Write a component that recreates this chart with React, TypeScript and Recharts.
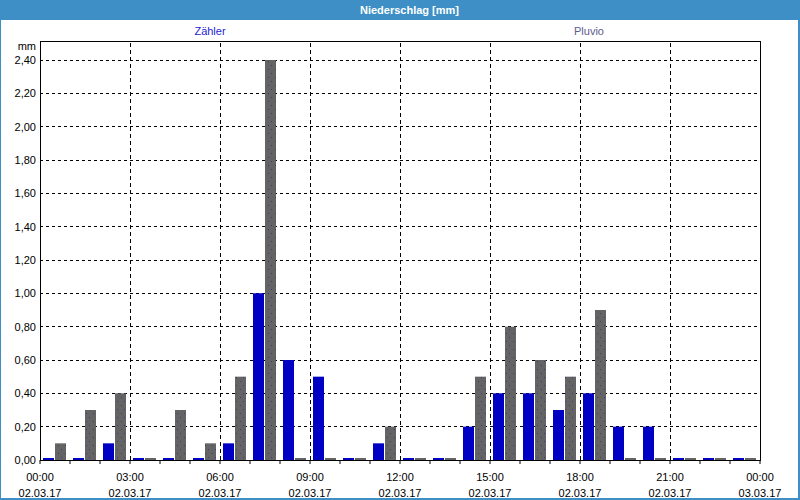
import React from 'react';
import { BarChart, Bar, XAxis, YAxis, CartesianGrid, ReferenceLine, ReferenceArea } from 'recharts';

// hourly slots 00:00 .. 23:00 on 02.03.17
const HOURS = [0, 1, 2, 3, 4, 5, 6, 7, 8, 9, 10, 11, 12, 13, 14, 15, 16, 17, 18, 19, 20, 21, 22, 23];
const ZAEHLER = [0, 0, 0.1, 0, 0, 0, 0.1, 1.0, 0.6, 0.5, 0, 0.1, 0, 0, 0.2, 0.4, 0.4, 0.3, 0.4, 0.2, 0.2, 0, 0, 0];
const PLUVIO = [0.1, 0.3, 0.4, 0, 0.3, 0.1, 0.5, 2.4, 0, 0, 0, 0.2, 0, 0, 0.5, 0.8, 0.6, 0.5, 0.9, 0, 0, 0, 0, 0];

const Y_TICKS = [0, 0.2, 0.4, 0.6, 0.8, 1.0, 1.2, 1.4, 1.6, 1.8, 2.0, 2.2, 2.4];
const Y_MAX = 2.514;

const TICK_HOURS = [0, 3, 6, 9, 12, 15, 18, 21, 24];
const TICK_TIMES = ['00:00', '03:00', '06:00', '09:00', '12:00', '15:00', '18:00', '21:00', '00:00'];
const TICK_DATES = ['02.03.17', '02.03.17', '02.03.17', '02.03.17', '02.03.17', '02.03.17', '02.03.17', '02.03.17', '03.03.17'];
const GRID_HOURS = [3, 6, 9, 12, 15, 18, 21];
const ALL_TICKS = [...HOURS, 24];

const BLUE = '#0000c4';
const GRAY = '#646464';
const FRAME = '#3d8fc6';
const FONT = '"Liberation Sans", Arial, sans-serif';

const data = HOURS.map((h, i) => ({ mid: h + 0.5, zaehler: ZAEHLER[i], pluvio: PLUVIO[i] }));

const TimeTick = ({ x, y, payload }: any) => {
  const idx = TICK_HOURS.indexOf(payload.value);
  if (idx < 0) return null;
  return (
    <g>
      <text x={x} y={y + 15} textAnchor="middle" fontSize={11} fontFamily={FONT} fill="#000">{TICK_TIMES[idx]}</text>
      <text x={x} y={y + 31} textAnchor="middle" fontSize={11} fontFamily={FONT} fill="#000">{TICK_DATES[idx]}</text>
    </g>
  );
};

export default function App() {
  return (
    <div style={{ position: 'absolute', left: 0, top: 0, width: 800, height: 500, background: '#fff', fontFamily: FONT, overflow: 'hidden' }}>
      <style>{'.recharts-cartesian-grid line, .recharts-reference-line line, .recharts-reference-area rect, .recharts-reference-area path { shape-rendering: crispEdges; }'}</style>
      <div style={{ position: 'absolute', left: 0, top: 0, width: 800, height: 20, background: FRAME, color: '#fff', fontWeight: 'bold', fontSize: 11, lineHeight: '20px', textAlign: 'center', paddingLeft: 19, boxSizing: 'border-box' }}>
        Niederschlag [mm]
      </div>
      <div style={{ position: 'absolute', left: 0, top: 24, width: 420, textAlign: 'center', fontSize: 11, color: '#2424d4', lineHeight: '14px' }}>Zähler</div>
      <div style={{ position: 'absolute', left: 380, top: 24, width: 418, textAlign: 'center', fontSize: 11, color: '#5c5c8c', lineHeight: '14px' }}>Pluvio</div>
      <div style={{ position: 'absolute', left: 0, top: 40, width: 36, textAlign: 'right', fontSize: 11, color: '#000', lineHeight: '13px' }}>mm</div>
      <div style={{ position: 'absolute', left: 0, top: 20 }}>
        <BarChart width={800} height={480} data={data} margin={{ top: 21, right: 40, bottom: 0, left: 0 }} barSize={11} barGap={1}>
          <defs>
            <pattern id="dots" width="7" height="8" patternUnits="userSpaceOnUse">
              <rect width="7" height="8" fill={GRAY} />
              <rect x="2" y="1" width="1" height="1" fill="#3a3a80" />
              <rect x="5" y="5" width="1" height="1" fill="#3a3a80" />
            </pattern>
          </defs>
          <CartesianGrid vertical={false} stroke="#000" strokeDasharray="3 3" />
          {GRID_HOURS.map((h) => (
            <ReferenceLine key={h} x={h} stroke="#000" strokeDasharray="4 3" />
          ))}
          <XAxis
            type="number"
            dataKey="mid"
            domain={[0, 24]}
            ticks={ALL_TICKS}
            interval={0}
            allowDataOverflow
            height={40}
            axisLine={false}
            tickLine={{ stroke: '#000' }}
            tickSize={4}
            tick={<TimeTick />}
          />
          <YAxis
            type="number"
            domain={[0, Y_MAX]}
            ticks={Y_TICKS}
            allowDataOverflow
            width={40}
            axisLine={false}
            tickLine={false}
            tickSize={0}
            tickMargin={4}
            tick={{ fontSize: 11, fontFamily: FONT, fill: '#000' }}
            tickFormatter={(v: number) => v.toFixed(2).replace('.', ',')}
          />
          <ReferenceArea x1={0} x2={24} y1={0} y2={Y_MAX} fill="none" stroke="#000" strokeWidth={1} ifOverflow="visible" />
          <Bar dataKey="zaehler" fill={BLUE} minPointSize={2} isAnimationActive={false} />
          <Bar dataKey="pluvio" fill="url(#dots)" minPointSize={2} isAnimationActive={false} />
        </BarChart>
      </div>
      <div style={{ position: 'absolute', left: 0, top: 20, width: 800, height: 480, borderLeft: `1px solid ${FRAME}`, borderRight: `2px solid ${FRAME}`, borderBottom: `2px solid ${FRAME}`, boxSizing: 'border-box', pointerEvents: 'none' }} />
    </div>
  );
}
